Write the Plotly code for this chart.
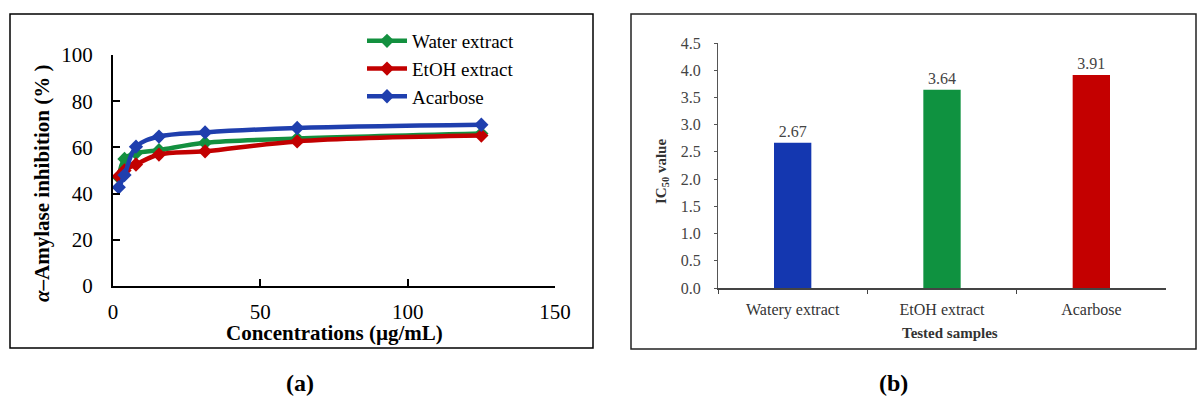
import plotly.graph_objects as go

# ---- Panel (a) data ----
conc = [1.95, 3.9, 7.8, 15.6, 31.25, 62.5, 125]
water = [47, 55, 57.5, 58.8, 62, 63.8, 66]
etoh = [47.5, 50, 52.6, 56.9, 58.3, 62.6, 65.1]
acarbose = [42.7, 48, 60.3, 64.7, 66.5, 68.4, 69.8]
series_names = ["Water extract", "EtOH extract", "Acarbose"]
line_colors = ["#13903f", "#c20000", "#1f3fae"]

# ---- Panel (b) data ----
samples = ["Watery extract", "EtOH extract", "Acarbose"]
ic50 = [2.67, 3.64, 3.91]
bar_colors = ["#1437b0", "#0f9240", "#c40000"]

FONT = "Liberation Serif, Times New Roman, serif"
W, H = 1200, 400


def px(x):
    return x / W


def py(y):
    return (H - y) / H


fig = go.Figure()

for name, ys, col in zip(series_names, [water, etoh, acarbose], line_colors):
    fig.add_trace(go.Scatter(
        x=conc, y=ys, name=name, mode="lines+markers",
        line=dict(color=col, width=4.5, shape="spline", smoothing=1),
        marker=dict(symbol="diamond", size=11, color=col),
        xaxis="x", yaxis="y",
    ))

fig.add_trace(go.Bar(
    x=samples, y=ic50, marker=dict(color=bar_colors, line=dict(width=0)),
    width=0.25, text=[f"{v:.2f}" for v in ic50], textposition="outside",
    textfont=dict(family=FONT, size=16, color="#444"),
    cliponaxis=False, showlegend=False, xaxis="x2", yaxis="y2",
))


def ann(text, x, y, size, color="black", angle=0):
    return dict(text=text, x=px(x), y=py(y), xref="paper", yref="paper",
                xanchor="center", yanchor="middle", textangle=angle,
                showarrow=False, font=dict(family=FONT, size=size, color=color))


fig.update_layout(
    width=W, height=H,
    margin=dict(l=0, r=0, t=0, b=0, autoexpand=False),
    paper_bgcolor="white", plot_bgcolor="white",
    font=dict(family=FONT, color="black"),
    showlegend=True,
    legend=dict(x=px(362), y=py(22), xanchor="left", yanchor="top",
                font=dict(family=FONT, size=19, color="black"),
                bgcolor="rgba(0,0,0,0)", tracegroupgap=0, itemwidth=40),
    xaxis=dict(domain=[px(113), px(555)], range=[0, 150], tickvals=[0, 50, 100, 150],
               automargin=False,
               showline=True, linecolor="black", linewidth=2, mirror=False,
               ticks="inside", ticklen=7, tickwidth=2, tickcolor="black",
               ticklabelstandoff=6,
               showgrid=False, zeroline=False,
               tickfont=dict(family=FONT, size=21, color="black")),
    yaxis=dict(domain=[py(286), py(55)], range=[0, 100], tickvals=[0, 20, 40, 60, 80, 100],
               automargin=False,
               showline=True, linecolor="black", linewidth=2,
               ticks="inside", ticklen=7, tickwidth=2, tickcolor="black",
               ticklabelstandoff=14,
               showgrid=False, zeroline=False,
               tickfont=dict(family=FONT, size=21, color="black")),
    xaxis2=dict(domain=[px(718), px(1166)], range=[-0.5, 2.5], anchor="y2",
                automargin=False,
                showline=True, linecolor="#444", linewidth=1.5,
                ticks="outside", ticklen=4, tickcolor="#444", tickson="boundaries",
                ticklabelstandoff=6,
                showgrid=False, zeroline=False,
                tickfont=dict(family=FONT, size=16, color="#333")),
    yaxis2=dict(domain=[py(288), py(43)], range=[0, 4.5], anchor="x2",
                automargin=False,
                tickvals=[0, 0.5, 1, 1.5, 2, 2.5, 3, 3.5, 4, 4.5], tickformat=".1f",
                showline=True, linecolor="#555", linewidth=1,
                ticks="outside", ticklen=3, tickcolor="#555",
                ticklabelstandoff=10,
                showgrid=False, zeroline=False,
                tickfont=dict(family=FONT, size=16, color="#444")),
    shapes=[
        dict(type="rect", xref="paper", yref="paper",
             x0=px(10), x1=px(593), y0=py(348), y1=py(14),
             line=dict(color="black", width=1.5)),
        dict(type="rect", xref="paper", yref="paper",
             x0=px(631), x1=px(1196), y0=py(349), y1=py(14),
             line=dict(color="#222", width=1.5)),
    ],
    annotations=[
        ann("<b><i>α</i>–Amylase inhibition (% )</b>", 42, 184, 21, angle=-90),
        ann("<b>Concentrations (µg/mL)</b>", 334, 333, 21),
        ann("<b>IC<sub>50</sub> value</b>", 662, 172, 15, color="#333", angle=-90),
        ann("<b>Tested samples</b>", 950, 333, 15, color="#333"),
        ann("<b>(a)</b>", 300, 383, 24),
        ann("<b>(b)</b>", 893, 383, 24),
    ],
)

post = ("document.documentElement.style.margin='0';document.body.style.margin='0';"
        "document.documentElement.style.overflow='hidden';document.body.style.overflow='hidden';"
        "var d=document.getElementById('{plot_id}');d.style.position='fixed';"
        "d.style.left='0px';d.style.top='0px';")
fig.write_html("out.html", config={"displayModeBar": False}, post_script=post)
